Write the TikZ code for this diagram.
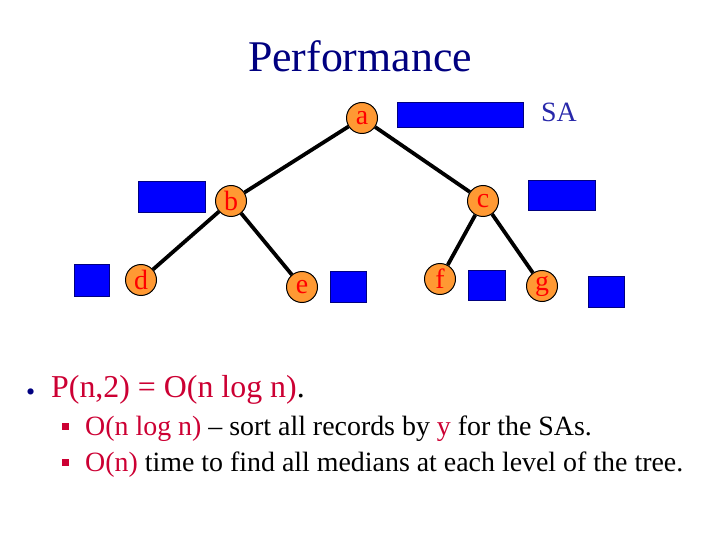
\documentclass[tikz,border=0pt]{standalone}
\usepackage{fontspec}
\setmainfont{Liberation Serif}
\definecolor{titleblue}{RGB}{0,0,128}
\definecolor{sablue}{RGB}{40,40,170}
\definecolor{boxblue}{RGB}{0,0,255}
\definecolor{nodeorange}{RGB}{255,153,51}
\definecolor{crimson}{RGB}{204,0,51}

\begin{document}
\begin{tikzpicture}[x=1bp, y=-1bp,
  treenode/.style={shape=circle, draw=black, line width=1pt, fill=nodeorange, minimum size=31bp, inner sep=0pt, text=red, font=\fontsize{28}{32}\selectfont},
  sabox/.style={fill=boxblue, draw=titleblue, line width=0.6pt},
  treeedge/.style={line width=3.8pt},
  bodytext/.style={anchor=base west, inner sep=0pt}
]
\useasboundingbox (0,0) rectangle (720,540);

\node[anchor=base, inner sep=0pt, text=titleblue, font=\fontsize{44}{50}\selectfont] (title) at (360,72) {Performance};

\node[treenode] (a) at (362,118) {a};
\node[treenode] (b) at (231,201) {b};
\node[treenode] (c) at (483,201) {c};
\node[treenode] (d) at (141,280) {d};
\node[treenode] (e) at (302,287) {e};
\node[treenode] (f) at (440,279) {f};
\node[treenode] (g) at (542,286) {g};

\draw[treeedge] (a) -- (b);
\draw[treeedge] (a) -- (c);
\draw[treeedge] (b) -- (d);
\draw[treeedge] (b) -- (e);
\draw[treeedge] (c) -- (f);
\draw[treeedge] (c) -- (g);

\draw[sabox] (397,102) rectangle (523,127);
\draw[sabox] (138,181) rectangle (205,212);
\draw[sabox] (528,180) rectangle (595,210);
\draw[sabox] (74,264) rectangle (109,296);
\draw[sabox] (330,271) rectangle (366,302);
\draw[sabox] (468,270) rectangle (505,300);
\draw[sabox] (588,276) rectangle (624,307);

\node[bodytext, text=sablue, font=\fontsize{28}{32}\selectfont] (sa) at (541,122) {SA};

\node[bodytext, text=titleblue, font=\fontsize{26}{30}\selectfont] (dot) at (26,400) {•};
\node[bodytext, font=\fontsize{32}{38}\selectfont] (line1) at (51,397) {\textcolor{crimson}{P(n,2) = O(n log n)}.};

\fill[crimson] (62,423) rectangle (69,430);
\fill[crimson] (62,459) rectangle (69,466);
\node[bodytext, font=\fontsize{28}{32}\selectfont] (line2) at (85,435) {\textcolor{crimson}{O(n log n)} – sort all records by \textcolor{crimson}{y} for the SAs.};
\node[bodytext, font=\fontsize{28}{32}\selectfont] (line3) at (85,471) {\textcolor{crimson}{O(n)} time to find all medians at each level of the tree.};

\end{tikzpicture}
\end{document}
